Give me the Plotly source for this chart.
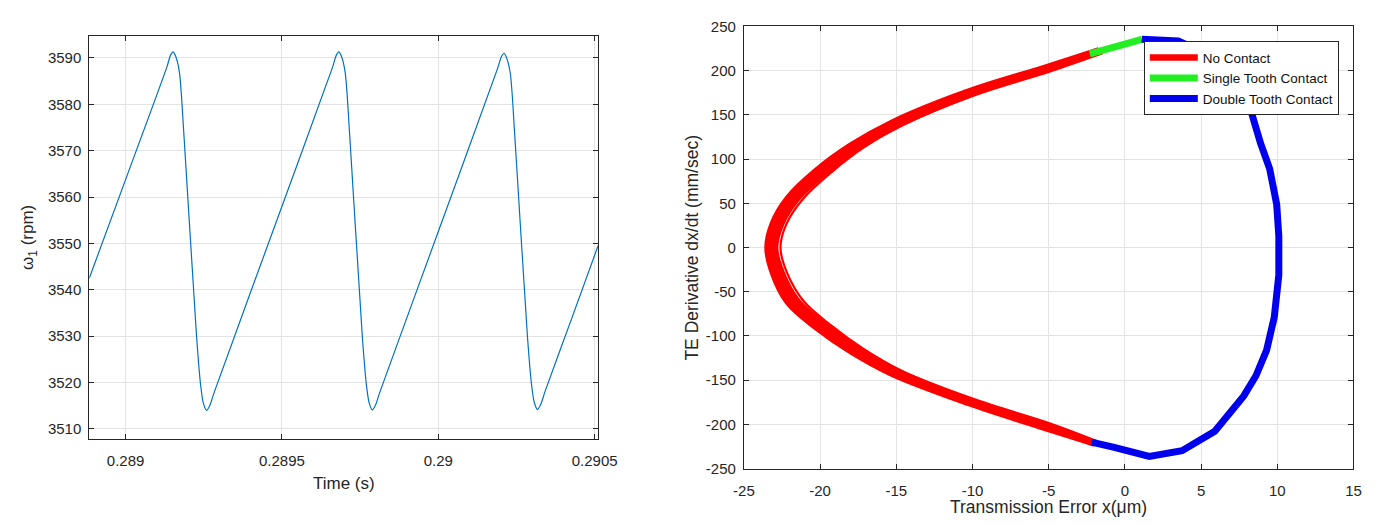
import plotly.graph_objects as go

# ---------------- Left panel: shaft speed vs time ----------------
time_s = [
    0.288884, 0.289008,
    0.289132, 0.289144, 0.289152, 0.289160, 0.289172, 0.289187, 0.289227,
    0.289240, 0.289249, 0.289259, 0.289269, 0.289284, 0.289473,
    0.289662, 0.289674, 0.289682, 0.289690, 0.289702, 0.289717, 0.289757,
    0.289770, 0.289779, 0.289789, 0.289799, 0.289814, 0.290003,
    0.290190, 0.290202, 0.290210, 0.290218, 0.290230, 0.290245, 0.290285,
    0.290298, 0.290307, 0.290317, 0.290327, 0.290342, 0.290427,
    0.290511,
]
omega_rpm = [
    3542.5, 3565.2,
    3588.0, 3590.6, 3591.3, 3590.4, 3587.0, 3573.0, 3530.0,
    3519.5, 3515.5, 3514.0, 3515.0, 3518.0, 3553.0,
    3588.0, 3590.6, 3591.3, 3590.4, 3587.0, 3573.0, 3530.0,
    3519.6, 3515.6, 3514.1, 3515.1, 3518.1, 3553.1,
    3587.8, 3590.3, 3591.0, 3590.1, 3586.8, 3572.8, 3530.0,
    3519.7, 3515.7, 3514.2, 3515.2, 3518.2, 3533.9,
    3549.5,
]
time_ticks = [0.289, 0.2895, 0.29, 0.2905]
time_tick_text = ["0.289", "0.2895", "0.29", "0.2905"]
omega_ticks = [3510, 3520, 3530, 3540, 3550, 3560, 3570, 3580, 3590]

# ---------------- Right panel: phase portrait ----------------
# No-contact arcs (several overlapping cycles)
nc_x_a = [-2.0, -5.4, -10.3, -15.3, -18.0, -20.3, -22.1, -23.1, -23.45,
          -23.1, -22.1, -20.3, -18.0, -15.3, -10.3, -5.3, -1.7]
nc_y_a = [-221.5, -203, -175.5, -142.5, -117, -89.5, -62, -28, 0,
          27, 56, 86, 115, 141, 176, 203, 223]
nc_x_b = [-2.0, -5.1, -10.1, -15.05, -17.7, -20.0, -21.8, -22.8, -23.2,
          -22.8, -21.8, -20.0, -17.7, -15.05, -10.1, -5.1, -1.6]
nc_y_b = [-221.5, -202, -174.6, -141.7, -116, -88.6, -61, -27.6, 0,
          27, 56, 85, 114.6, 140, 175, 202.4, 222.5]
nc_x_c = [-1.9, -4.9, -9.9, -14.8, -17.4, -19.7, -21.5, -22.55, -22.95,
          -22.55, -21.5, -19.7, -17.4, -14.8, -9.9, -4.9, -1.5]
nc_y_c = [-221, -201.5, -174, -141, -115.5, -88, -60.5, -27.3, 0,
          27, 55.5, 84.5, 114, 139.3, 174.4, 201.8, 222]
nc_x_d = [-1.9, -4.8, -9.7, -14.5, -17.1, -19.3, -21.1, -22.2, -22.6,
          -22.2, -21.1, -19.3, -17.1, -14.5, -9.7, -4.8, -1.5]
nc_y_d = [-221, -201.3, -173.8, -140.7, -115.2, -87.8, -60.2, -27.2, 0,
          27, 55.5, 84.5, 113.5, 139, 174, 201.5, 222]

# Single-tooth contact segment
stc_x = [-2.3, -1.2, 0.0, 1.1]
stc_y = [219.0, 225.0, 230.0, 235.3]

# Double-tooth contact segment
dtc_x = [1.1, 3.5, 5.5, 6.8, 7.6, 8.2, 8.9, 9.5, 9.96, 10.1, 10.1, 9.8, 9.3,
         8.6, 7.8, 5.9, 3.75, 1.6, -0.7, -2.2]
dtc_y = [235.5, 233.5, 218, 195, 173, 158.5, 118, 89, 49, 13, -31, -79, -116,
         -145, -167.7, -207.8, -229.7, -236.2, -226, -220.0]

te_ticks = [-25, -20, -15, -10, -5, 0, 5, 10, 15]
te_tick_text = ["-25", "-20", "-15", "-10", "-5", "0", "5", "10", "15"]
ted_ticks = [-250, -200, -150, -100, -50, 0, 50, 100, 150, 200, 250]
ted_tick_text = ["-250", "-200", "-150", "-100", "-50", "0", "50", "100",
                 "150", "200", "250"]

FONT = "Liberation Sans, Arial, Helvetica, sans-serif"
AXC = "#262626"
GRID = "#e3e3e3"
W, H = 1395, 526


def px_x(p):
    return p / W


def px_y(p):
    return 1 - p / H


fig = go.Figure()

fig.add_trace(go.Scatter(
    x=time_s, y=omega_rpm, mode="lines",
    line=dict(color="#0072BD", width=1.2, shape="spline", smoothing=0.8),
    showlegend=False, xaxis="x", yaxis="y",
))

red = "#ff0000"
for i, (xs, ys, wd) in enumerate([(nc_x_a, nc_y_a, 6.5), (nc_x_b, nc_y_b, 6.5),
                                   (nc_x_c, nc_y_c, 6.5), (nc_x_d, nc_y_d, 2.2)]):
    fig.add_trace(go.Scatter(
        x=xs, y=ys, mode="lines", name="No Contact", legendgroup="nc",
        showlegend=(i == 0),
        line=dict(color=red, width=wd, shape="spline", smoothing=1.0),
        xaxis="x2", yaxis="y2",
    ))

fig.add_trace(go.Scatter(
    x=stc_x, y=stc_y, mode="lines", name="Single Tooth Contact",
    line=dict(color="#22ee22", width=7), xaxis="x2", yaxis="y2",
))
fig.add_trace(go.Scatter(
    x=dtc_x, y=dtc_y, mode="lines", name="Double Tooth Contact",
    line=dict(color="#0000ee", width=7), xaxis="x2", yaxis="y2",
))

axis_common = dict(
    showline=True, linecolor=AXC, linewidth=1, mirror="ticks",
    ticks="inside", ticklen=5, tickcolor=AXC, tickwidth=1,
    showgrid=True, gridcolor=GRID, gridwidth=1, zeroline=False,
    tickfont=dict(family=FONT, size=15, color=AXC),
    tickmode="array",
)

fig.update_layout(
    width=W, height=H,
    margin=dict(l=0, r=0, t=0, b=0),
    paper_bgcolor="white", plot_bgcolor="white",
    font=dict(family=FONT, color=AXC),
    xaxis=dict(domain=[px_x(80), px_x(600)], range=[0.288884, 0.290511],
               tickvals=time_ticks, ticktext=time_tick_text,
               anchor="y", ticklabelstandoff=8, **axis_common),
    yaxis=dict(domain=[px_y(444.5), px_y(28)], range=[3507.8, 3594.7],
               tickvals=omega_ticks, ticktext=[str(v) for v in omega_ticks],
               anchor="x", ticklabelstandoff=4, **axis_common),
    xaxis2=dict(domain=[px_x(749), px_x(1372)], range=[-25, 15],
                tickvals=te_ticks, ticktext=te_tick_text,
                anchor="y2", ticklabelstandoff=8, **axis_common),
    yaxis2=dict(domain=[px_y(475), px_y(18)], range=[-250, 250],
                tickvals=ted_ticks, ticktext=ted_tick_text,
                anchor="x2", ticklabelstandoff=4, **axis_common),
    legend=dict(
        x=px_x(1157.7), y=px_y(33.3), xanchor="left", yanchor="top",
        bgcolor="white", bordercolor=AXC, borderwidth=1,
        font=dict(family=FONT, size=13.5, color="#111111"),
        itemwidth=48, tracegroupgap=0,
    ),
    annotations=[
        dict(text="Time (s)", x=px_x(340), y=px_y(490), xref="paper", yref="paper",
             showarrow=False, xanchor="center", yanchor="middle",
             font=dict(family=FONT, size=17, color=AXC)),
        dict(text="ω<sub>1</sub> (rpm)", x=px_x(19), y=px_y(236), xref="paper",
             yref="paper", showarrow=False, textangle=-90,
             xanchor="center", yanchor="middle",
             font=dict(family=FONT, size=17, color=AXC)),
        dict(text="Transmission Error x(μm)", x=px_x(1060.5), y=px_y(515),
             xref="paper", yref="paper", showarrow=False,
             xanchor="center", yanchor="middle",
             font=dict(family=FONT, size=17.5, color=AXC)),
        dict(text="TE Derivative dx/dt (mm/sec)", x=px_x(696), y=px_y(246.5),
             xref="paper", yref="paper", showarrow=False, textangle=-90,
             xanchor="center", yanchor="middle",
             font=dict(family=FONT, size=17.5, color=AXC)),
    ],
)

fig.write_html("out.html")
